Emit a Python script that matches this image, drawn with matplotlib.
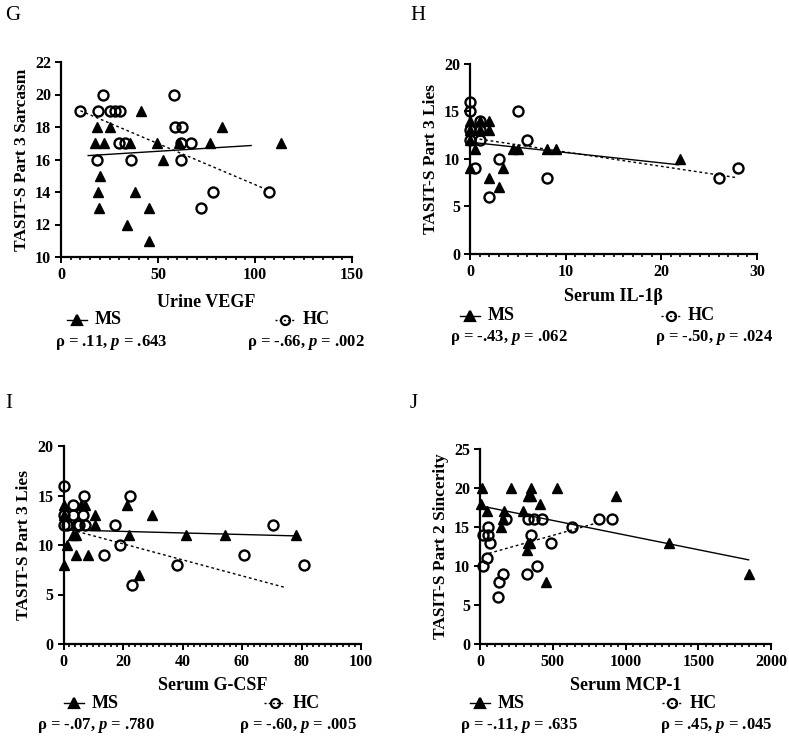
"""TASIT-S vs biomarker scatter panels G-J (MS vs HC) with fit lines."""
import matplotlib
matplotlib.use("Agg")
import matplotlib.pyplot as plt
from matplotlib.lines import Line2D
from matplotlib.ticker import MultipleLocator

plt.rcParams["font.family"] = "Liberation Serif"
plt.rcParams["font.weight"] = "bold"
plt.rcParams["mathtext.fontset"] = "custom"
plt.rcParams["mathtext.it"] = "Liberation Serif:italic:bold"
plt.rcParams["mathtext.rm"] = "Liberation Serif:bold"

# ---- G: Urine VEGF vs Part 3 Sarcasm ----
g_ms_x = [41, 18.6, 25.5, 83, 17.3, 22, 35.8, 49.5, 60.6, 76.9, 113.2, 52.4, 20, 19.3, 38.3, 19.8, 45.2, 34.2, 45.2]
g_ms_y = [19, 18, 18, 18, 17, 17, 17, 17, 17, 17, 17, 16, 15, 14, 14, 13, 13, 12, 11]
g_hc_x = [9.7, 19, 21.5, 25.5, 28, 30.6, 29.8, 32.8, 36.1, 18.6, 58, 58.9, 62.3, 62, 67.1, 61.8, 78.3, 72.4, 107.4]
g_hc_y = [19, 19, 20, 19, 19, 19, 17, 17, 16, 16, 20, 18, 18, 17, 17, 16, 14, 13, 14]
g_ms_fit_x, g_ms_fit_y = [14, 98], [16.24, 16.86]
g_hc_fit_x, g_hc_fit_y = [10, 107], [19.0, 14.1]
g_stats = ["ρ = .11, $p$ = .643", "ρ = -.66, $p$ = .002"]

# ---- H: Serum IL-1β vs Part 3 Lies ----
h_ms_x = [0, 0, 0, 1, 1, 2, 2, 0.5, 0, 2, 3, 3.5, 4.5, 5, 8, 9, 22]
h_ms_y = [14, 13, 12, 14, 13, 14, 13, 11, 9, 8, 7, 9, 11, 11, 11, 11, 10]
h_hc_x = [0, 0, 0, 0, 1, 1, 1, 0.5, 5, 6, 3, 2, 8, 26, 28]
h_hc_y = [16, 15, 13, 12, 14, 13, 12, 9, 15, 12, 10, 6, 8, 8, 9]
h_ms_fit_x, h_ms_fit_y = [0, 21.8], [11.74, 9.37]
h_hc_fit_x, h_hc_fit_y = [1, 28], [12.06, 8.0]
h_stats = ["ρ = -.43, $p$ = .062", "ρ = -.50, $p$ = .024"]

# ---- I: Serum G-CSF vs Part 3 Lies ----
i_ms_x = [0.2, 5.8, 7.3, 21.3, 0, 10.6, 29.8, 10.6, 3.3, 4.2, 21.9, 41.3, 54.2, 78, 1.1, 4.1, 8.2, 0.2, 25.3]
i_ms_y = [14, 14, 14, 14, 13, 13, 13, 12, 11, 11, 11, 11, 11, 11, 10, 9, 9, 8, 7]
i_hc_x = [0.2, 7.0, 22.2, 3.1, 0.2, 3.1, 6.7, 0.2, 1.3, 4.4, 5.3, 7.3, 17.2, 70.3, 19.1, 13.6, 60.8, 38.2, 80.8, 23.1]
i_hc_y = [16, 15, 15, 14, 13, 13, 13, 12, 12, 12, 12, 12, 12, 12, 10, 9, 9, 8, 8, 6]
i_ms_fit_x, i_ms_fit_y = [0, 78], [11.53, 10.92]
i_hc_fit_x, i_hc_fit_y = [1, 74.5], [11.66, 5.71]
i_stats = ["ρ = -.07, $p$ = .780", "ρ = -.60, $p$ = .005"]

# ---- J: Serum MCP-1 vs Part 2 Sincerity ----
j_ms_x = [11, 211, 350, 527, 328, 350, 935, 5, 412, 46, 167, 293, 156, 142, 328, 344, 1301, 321, 454, 1846]
j_ms_y = [20, 20, 20, 20, 19, 19, 19, 18, 18, 17, 17, 17, 16, 15, 13, 13, 13, 12, 8, 9]
j_hc_x = [23, 57, 350, 57, 69, 486, 179, 332, 371, 424, 820, 905, 630, 46, 23, 394, 156, 321, 131, 121]
j_hc_y = [14, 14, 14, 15, 13, 13, 16, 16, 16, 16, 16, 16, 15, 11, 10, 10, 9, 9, 8, 6]
j_ms_fit_x, j_ms_fit_y = [0, 1846], [17.72, 10.79]
j_hc_fit_x, j_hc_fit_y = [25, 800], [11.43, 15.5]
j_stats = ["ρ = -.11, $p$ = .635", "ρ = .45, $p$ = .045"]

W, H = 789, 749


def rect(left, top, right, bottom):
    """pixel box -> figure fraction rect"""
    return [left / W, 1 - bottom / H, (right - left) / W, (bottom - top) / H]


def draw_panel(fig, box, letter, letter_xy, ms_x, ms_y, hc_x, hc_y, ms_fit, hc_fit,
               xlim, xmaj, xmin, ylim, ymaj, xlabel, ylabel, stats, leg_x, stat_x,
               y_leg, y_stat, xpad, xtpad):
    ax = fig.add_axes(rect(*box))
    ax.plot(ms_fit[0], ms_fit[1], color="black", lw=1.0)
    ax.plot(hc_fit[0], hc_fit[1], color="black", lw=1.0, ls=(0, (2, 2)))
    ax.plot(ms_x, ms_y, ls="none", marker="^", ms=6.8, color="black", clip_on=False)
    ax.plot(hc_x, hc_y, ls="none", marker="o", ms=7.2, mfc="none", mec="black",
            mew=1.7, clip_on=False)
    ax.set_xlim(*xlim); ax.set_ylim(*ylim)
    ax.xaxis.set_major_locator(MultipleLocator(xmaj))
    ax.xaxis.set_minor_locator(MultipleLocator(xmin))
    ax.yaxis.set_major_locator(MultipleLocator(ymaj))
    for s in ["top", "right"]:
        ax.spines[s].set_visible(False)
    for s in ["left", "bottom"]:
        ax.spines[s].set_linewidth(1.6)
    ax.tick_params(which="major", direction="out", length=4, width=1.4, labelsize=11.5, pad=3)
    ax.tick_params(which="minor", direction="out", length=2.5, width=1.2)
    ax.tick_params(axis="x", which="major", pad=xtpad)
    ax.set_xlabel(xlabel, fontsize=13, fontweight="bold", labelpad=xpad)
    ax.set_ylabel(ylabel, fontsize=12.5, fontweight="bold", labelpad=4)

    # legend row and stats row (under x label)
    for (x0, mk, ls, lab) in [(leg_x[0], "^", "-", "MS"), (leg_x[1], "o", (0, (1.5, 1.5)), "HC")]:
        ax.add_line(Line2D([x0 - 0.035, x0 + 0.035], [y_leg, y_leg], transform=ax.transAxes,
                           color="black", lw=1.0, ls=ls, clip_on=False))
        ax.add_line(Line2D([x0], [y_leg], transform=ax.transAxes, marker=mk, ms=6.5,
                           mfc="black" if mk == "^" else "none", mec="black", mew=1.6,
                           ls="none", clip_on=False))
        ax.text(x0 + 0.06, y_leg, lab, transform=ax.transAxes, fontsize=13,
                fontweight="bold", va="center", ha="left")
    for x0, s in zip(stat_x, stats):
        ax.text(x0, y_stat, s, transform=ax.transAxes, fontsize=12,
                fontweight="bold", va="center", ha="left")
    fig.text(letter_xy[0] / W, 1 - letter_xy[1] / H, letter, fontsize=15,
             fontweight="normal", va="center", ha="left")
    return ax


fig = plt.figure(figsize=(W / 100, H / 100), dpi=100)

draw_panel(fig, (61, 62, 352, 257), "G", (5, 16),
           g_ms_x, g_ms_y, g_hc_x, g_hc_y, (g_ms_fit_x, g_ms_fit_y), (g_hc_fit_x, g_hc_fit_y),
           (0, 150), 50, 5, (10, 22), 2, "Urine VEGF", "TASIT-S Part 3 Sarcasm",
           g_stats, (0.055, 0.77), (-0.02, 0.64), -0.323, -0.436, 8, 3)

draw_panel(fig, (470, 63.5, 757, 254), "H", (410, 16),
           h_ms_x, h_ms_y, h_hc_x, h_hc_y, (h_ms_fit_x, h_ms_fit_y), (h_hc_fit_x, h_hc_fit_y),
           (0, 30), 10, 1, (0, 20), 5, "Serum IL-1β", "TASIT-S Part 3 Lies",
           h_stats, (0.0, 0.70), (-0.07, 0.645), -0.325, -0.44, 6, 3)

draw_panel(fig, (63.5, 446, 361, 644), "I", (5, 404),
           i_ms_x, i_ms_y, i_hc_x, i_hc_y, (i_ms_fit_x, i_ms_fit_y), (i_hc_fit_x, i_hc_fit_y),
           (0, 100), 20, 2, (0, 20), 5, "Serum G-CSF", "TASIT-S Part 3 Lies",
           i_stats, (0.035, 0.71), (-0.09, 0.59), -0.30, -0.412, 5, 3)

draw_panel(fig, (480, 449, 771, 644), "J", (410, 404),
           j_ms_x, j_ms_y, j_hc_x, j_hc_y, (j_ms_fit_x, j_ms_fit_y), (j_hc_fit_x, j_hc_fit_y),
           (0, 2000), 500, 50, (0, 25), 5, "Serum MCP-1", "TASIT-S Part 2 Sincerity",
           j_stats, (0.0, 0.66), (-0.07, 0.62), -0.305, -0.418, 5, 3)

fig.savefig("out.png", dpi=100)
